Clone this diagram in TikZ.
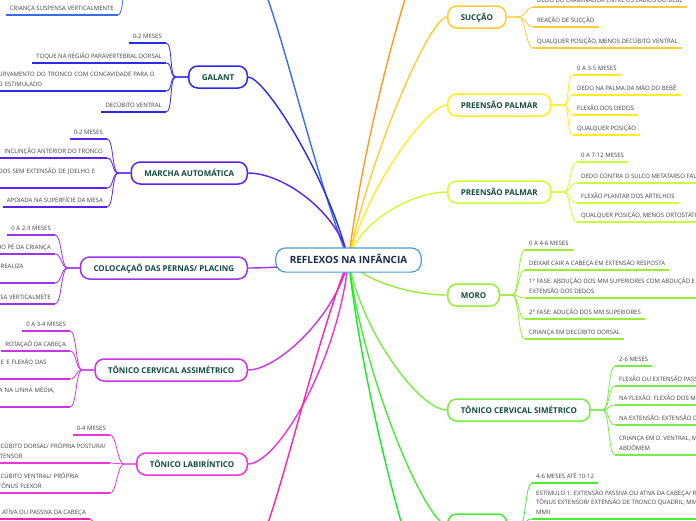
\documentclass[tikz,border=0pt]{standalone}
\usepackage{fontspec}
\setmainfont{Open Sans}
\usetikzlibrary{backgrounds}

\begin{document}
\begin{tikzpicture}[x=1pt,y=-1pt,
  hub/.style={draw=chub, line width=1.2pt, fill=white, rounded corners=10pt,
    inner xsep=14pt, inner ysep=8.5pt, text height=7.2pt, text depth=0pt,
    text=chubtext, font=\bfseries\fontsize{10}{12}\selectfont},
  branch/.style={draw=#1, line width=1.5pt, fill=white, rounded corners=9pt,
    inner xsep=13pt, inner ysep=8pt, text height=6pt, text depth=0pt,
    text=cbranchtext, font=\bfseries\fontsize{8}{10}\selectfont},
  kid/.style={inner xsep=4pt, inner ysep=2pt, align=left, text=ckidtext,
    font=\fontsize{6}{9.3}\selectfont, execute at end node=\strut},
  spoke/.style={draw=#1, line width=1.4pt},
  twig/.style={draw=#1, line width=0.8pt},
  uline/.style={draw=#1, line width=1.6pt},
]

\definecolor{chub}{rgb}{0.29,0.61,0.85}
\definecolor{chubtext}{rgb}{0.1,0.17,0.3}
\definecolor{cbranchtext}{rgb}{0.07,0.3,0.24}
\definecolor{ckidtext}{rgb}{0.25,0.25,0.25}
\definecolor{ctopleft}{rgb}{0.23,0.42,0.95}
\definecolor{cgalant}{rgb}{0.17,0.17,0.93}
\definecolor{cmarcha}{rgb}{0.36,0.13,0.93}
\definecolor{cplacing}{rgb}{0.61,0.2,0.93}
\definecolor{ctca}{rgb}{0.8,0.2,0.93}
\definecolor{ctl}{rgb}{0.93,0.2,0.87}
\definecolor{cbotleft}{rgb}{1.0,0.13,0.67}
\definecolor{ctopright}{rgb}{1.0,0.6,0.13}
\definecolor{csuc}{rgb}{1.0,0.8,0.2}
\definecolor{cpalmar}{rgb}{1.0,0.93,0.13}
\definecolor{cplantar}{rgb}{0.8,1.0,0.2}
\definecolor{cmoro}{rgb}{0.6,0.93,0.2}
\definecolor{ctcs}{rgb}{0.47,0.93,0.27}
\definecolor{clandau}{rgb}{0.27,0.93,0.2}
\definecolor{cbotright}{rgb}{0.07,0.93,0.13}

\useasboundingbox (0,0) rectangle (696,520);
\clip (0,0) rectangle (696,520);

\node[hub] (hub) at (348.5,260) {REFLEXOS NA INFÂNCIA};

% left side
\node[branch=cgalant, anchor=east] (galant) at (248,77) {GALANT};
\node[branch=cmarcha, anchor=east] (marcha) at (248,173) {MARCHA AUTOMÁTICA};
\node[branch=cplacing, anchor=east] (placing) at (248,268) {COLOCAÇAÕ DAS PERNAS/ PLACING};
\node[branch=ctca, anchor=east] (tca) at (248,370) {TÔNICO CERVICAL ASSIMÉTRICO};
\node[branch=ctl, anchor=east] (tl) at (248,464) {TÔNICO LABIRÍNTICO};
\coordinate (hidtl) at (248,-37);
\coordinate (hidtlb) at (130,-37);
\coordinate (hidbl) at (248,560);
\coordinate (hidblb) at (102,560);

% right side
\node[branch=csuc, anchor=west] (succao) at (447,17) {SUCÇÃO};
\node[branch=cpalmar, anchor=west] (palmar) at (447,105) {PREENSÃO PALMAR};
\node[branch=cplantar, anchor=west] (plantar) at (447,192) {PREENSÃO PALMAR};
\node[branch=cmoro, anchor=west] (moro) at (447,295) {MORO};
\node[branch=ctcs, anchor=west] (tcs) at (447,410) {TÔNICO CERVICAL SIMÉTRICO};
\node[branch=clandau, anchor=west, minimum width=59pt] (landau) at (447,525) {};
\coordinate (hidtr) at (447,-100);
\coordinate (hidbr) at (447,638);

% galant
\node[kid, anchor=south east] (g1) at (166,43) {0-2 MESES};
\node[kid, anchor=south east] (g2) at (166,63) {TOQUE NA REGIÃO PARAVERTEBRAL DORSAL};
\node[kid, anchor=south east, text width=175pt] (g3) at (166,91) {ENCURVAMENTO DO TRONCO COM CONCAVIDADE PARA O\\LADO ESTIMULADO};
\node[kid, anchor=south east] (g4) at (166,112) {DECÚBITO VENTRAL};
% marcha
\node[kid, anchor=south east] (m1) at (107,139) {0-2 MESES};
\node[kid, anchor=south east] (m2) at (107,158) {INCLINÇÃO ANTERIOR DO TRONCO};
\node[kid, anchor=south east, text width=130pt] (m3) at (107,188) {ALTERNADOS SEM EXTENSÃO DE JOELHO E\\QUADRIL};
\node[kid, anchor=south east] (m4) at (107,207) {APOIADA NA SUPERFÍCIE DA MESA};
% placing
\node[kid, anchor=south east] (p1) at (55,235) {0 A 2-3 MESES};
\node[kid, anchor=south east] (p2) at (55,254) {DO PÉ DA CRIANÇA};
\node[kid, anchor=south east, text width=83pt] (p3) at (55,283) {A CRIANÇA REALIZA\\O APOIO};
\node[kid, anchor=south east] (p4) at (55,304) {SUSPENSA VERTICALMETE};
% tonico cervical assimetrico
\node[kid, anchor=south east] (t1) at (70,331) {0 A 3-4 MESES};
\node[kid, anchor=south east] (t2) at (70,351) {ROTAÇAÕ DA CABEÇA};
\node[kid, anchor=south east, text width=163pt] (t3) at (70,379) {EXTENSÃO DOS MEMBROS DA FACE E FLEXÃO DAS\\CONTRALATERAIS};
\node[kid, anchor=south east, text width=107pt] (t4) at (70,407) {COM A CABEÇA NA LINHA MÉDIA,\\SIMETRIA};
% tonico labirintico
\node[kid, anchor=south east] (l1) at (110,435) {0-4 MESES};
\node[kid, anchor=south east] (l2) at (110,463) {DECÚBITO DORSAL/ PRÓPRIA POSTURA/\\EXTENSOR};
\node[kid, anchor=south east, text width=113pt] (l3) at (110,493) {DECÚBITO VENTRAL/ PRÓPRIA\\+ TÔNUS FLEXOR};
% hidden ones
\node[kid, anchor=south east] (k1) at (118,15) {CRIANÇA SUSPENSA VERTICALMENTE};
\node[kid, anchor=south east] (z1) at (90,519) {ATIVA OU PASSIVA DA CABEÇA};

% succao
\node[kid, anchor=south west] (s1) at (533,7) {DEDO DO EXAMINADOR ENTRE OS LÁBIOS DO BEBÊ};
\node[kid, anchor=south west] (s2) at (533,27) {REAÇÃO DE SUCÇÃO};
\node[kid, anchor=south west] (s3) at (533,48) {QUALQUER POSIÇÃO, MENOS DECÚBITO VENTRAL};
% preensao palmar
\node[kid, anchor=south west] (a1) at (573,75) {0 A 3-5 MESES};
\node[kid, anchor=south west] (a2) at (573,95) {DEDO NA PALMA DA MÃO DO BEBÊ};
\node[kid, anchor=south west] (a3) at (573,115) {FLEXÃO DOS DEDOS};
\node[kid, anchor=south west] (a4) at (573,135) {QUALQUER POSIÇÃO};
% preensao (pe)
\node[kid, anchor=south west] (b1) at (577,162) {0 A 7-12 MESES};
\node[kid, anchor=south west] (b2) at (577,183) {DEDO CONTRA O SULCO METATARSO FALANGEANO};
\node[kid, anchor=south west] (b3) at (577,203) {FLEXÃO PLANTAR DOS ARTELHOS};
\node[kid, anchor=south west] (b4) at (577,222) {QUALQUER POSIÇÃO, MENOS ORTOSTÁTICA};
% moro
\node[kid, anchor=south west] (o1) at (525,250) {0 A 4-6 MESES};
\node[kid, anchor=south west] (o2) at (525,270) {DEIXAR CAIR A CABEÇA EM EXTENSÃO RESPOSTA};
\node[kid, anchor=south west] (o3) at (525,298) {1° FASE: ABDUÇÃO DOS MM SUPERIORES COM ABDUÇÃO E\\EXTENSÃO DOS DEDOS};
\node[kid, anchor=south west] (o4) at (525,319) {2° FASE: ADUÇÃO DOS MM SUPERIORES};
\node[kid, anchor=south west] (o5) at (525,339) {CRIANÇA EM DECÚBITO DORSAL};
% tonico cervical simetrico
\node[kid, anchor=south west] (c1) at (615,366) {2-6 MESES};
\node[kid, anchor=south west] (c2) at (615,386) {FLEXÃO OU EXTENSÃO PASSIVA DA CABEÇA};
\node[kid, anchor=south west] (c3) at (615,405) {NA FLEXÃO: FLEXÃO DOS MMSS E EXTENSÃO DOS MMII};
\node[kid, anchor=south west] (c4) at (615,425) {NA EXTENSÃO: EXTENSÃO DOS MMSS E FLEXÃO DOS MMII};
\node[kid, anchor=south west] (c5) at (615,455) {CRIANÇA EM D. VENTRAL, MÃOS SOB O\\ABDÔMEM};
% landau
\node[kid, anchor=south west] (d1) at (532,483) {4-6 MESES ATÉ 10-12};
\node[kid, anchor=south west] (d2) at (532,519) {ESTÍMULO 1: EXTENSÃO PASSIVA OU ATIVA DA CABEÇA/ RESPOSTA:\\TÔNUS EXTENSOR/ EXTENSÃO DE TRONCO QUADRIL, MMSS E\\MMII};

% spokes from the centre
\begin{scope}[on background layer]
\fill[white] (0,0) rectangle (696,520);
\draw[spoke=ctopleft] (hub.center) .. controls +(-40,-100) and +(20,0) .. (hidtl);
\draw[spoke=cgalant] (hub.center) .. controls +(-20,-82) and +(17,0) .. (galant.east);
\draw[spoke=cmarcha] (hub.center) .. controls +(-8,-45) and +(37,0) .. (marcha.east);
\draw[spoke=cplacing] (hub.center) .. controls +(-30,4) and +(30,0) .. (placing.east);
\draw[spoke=ctca] (hub.center) .. controls +(-12,55) and +(30,0) .. (tca.east);
\draw[spoke=ctl] (hub.center) .. controls +(-10,100) and +(30,0) .. (tl.east);
\draw[spoke=cbotleft] (hub.center) .. controls +(-40,100) and +(20,0) .. (hidbl);
\draw[spoke=ctopright] (hub.center) .. controls +(20,-160) and +(-17,0) .. (hidtr);
\draw[spoke=csuc] (hub.center) .. controls +(22,-107) and +(-17,0) .. (succao.west);
\draw[spoke=cpalmar] (hub.center) .. controls +(18,-72) and +(-20,0) .. (palmar.west);
\draw[spoke=cplantar] (hub.center) .. controls +(8,-36) and +(-37,0) .. (plantar.west);
\draw[spoke=cmoro] (hub.center) .. controls +(10,18) and +(-40,0) .. (moro.west);
\draw[spoke=ctcs] (hub.center) .. controls +(12,70) and +(-28,0) .. (tcs.west);
\draw[spoke=clandau] (hub.center) .. controls +(15,120) and +(-20,0) .. (landau.west);
\draw[spoke=cbotright] (hub.center) .. controls +(18,166) and +(-17,0) .. (hidbr);
\end{scope}

% twigs and underlines, left
\foreach \k in {g1,g2,g3,g4}{
  \draw[twig=cgalant] (galant.west) -- ++(-12,0) .. controls +(-7,0) and +(7,0) .. (\k.south east);
  \draw[uline=cgalant] (\k.south east) -- (\k.south west);
}
\foreach \k in {m1,m2,m3,m4}{
  \draw[twig=cmarcha] (marcha.west) -- ++(-12,0) .. controls +(-7,0) and +(7,0) .. (\k.south east);
  \draw[uline=cmarcha] (\k.south east) -- (\k.south west);
}
\foreach \k in {p1,p2,p3,p4}{
  \draw[twig=cplacing] (placing.west) -- ++(-12,0) .. controls +(-7,0) and +(7,0) .. (\k.south east);
  \draw[uline=cplacing] (\k.south east) -- (\k.south west);
}
\foreach \k in {t1,t2,t3,t4}{
  \draw[twig=ctca] (tca.west) -- ++(-12,0) .. controls +(-7,0) and +(7,0) .. (\k.south east);
  \draw[uline=ctca] (\k.south east) -- (\k.south west);
}
\foreach \k in {l1,l2,l3}{
  \draw[twig=ctl] (tl.west) -- ++(-12,0) .. controls +(-7,0) and +(7,0) .. (\k.south east);
  \draw[uline=ctl] (\k.south east) -- (\k.south west);
}
\draw[twig=ctopleft] (hidtlb) .. controls +(-7,0) and +(7,0) .. (k1.south east);
\draw[uline=ctopleft] (k1.south east) -- (k1.south west);
\draw[twig=cbotleft] (hidblb) .. controls +(-7,0) and +(7,0) .. (z1.south east);
\draw[uline=cbotleft] (z1.south east) -- (z1.south west);

% twigs and underlines, right
\foreach \k in {s1,s2,s3}{
  \draw[twig=csuc] (succao.east) -- ++(12,0) .. controls +(7,0) and +(-7,0) .. (\k.south west);
  \draw[uline=csuc] (\k.south west) -- (\k.south east);
}
\foreach \k in {a1,a2,a3,a4}{
  \draw[twig=cpalmar] (palmar.east) -- ++(12,0) .. controls +(7,0) and +(-7,0) .. (\k.south west);
  \draw[uline=cpalmar] (\k.south west) -- (\k.south east);
}
\foreach \k in {b1,b2,b3,b4}{
  \draw[twig=cplantar] (plantar.east) -- ++(12,0) .. controls +(7,0) and +(-7,0) .. (\k.south west);
  \draw[uline=cplantar] (\k.south west) -- (\k.south east);
}
\foreach \k in {o1,o2,o3,o4,o5}{
  \draw[twig=cmoro] (moro.east) -- ++(12,0) .. controls +(7,0) and +(-7,0) .. (\k.south west);
  \draw[uline=cmoro] (\k.south west) -- (\k.south east);
}
\foreach \k in {c1,c2,c3,c4,c5}{
  \draw[twig=ctcs] (tcs.east) -- ++(12,0) .. controls +(7,0) and +(-7,0) .. (\k.south west);
  \draw[uline=ctcs] (\k.south west) -- (\k.south east);
}
\foreach \k in {d1,d2}{
  \draw[twig=clandau] (landau.east) -- ++(12,0) .. controls +(7,0) and +(-7,0) .. (\k.south west);
  \draw[uline=clandau] (\k.south west) -- (\k.south east);
}

\end{tikzpicture}
\end{document}
